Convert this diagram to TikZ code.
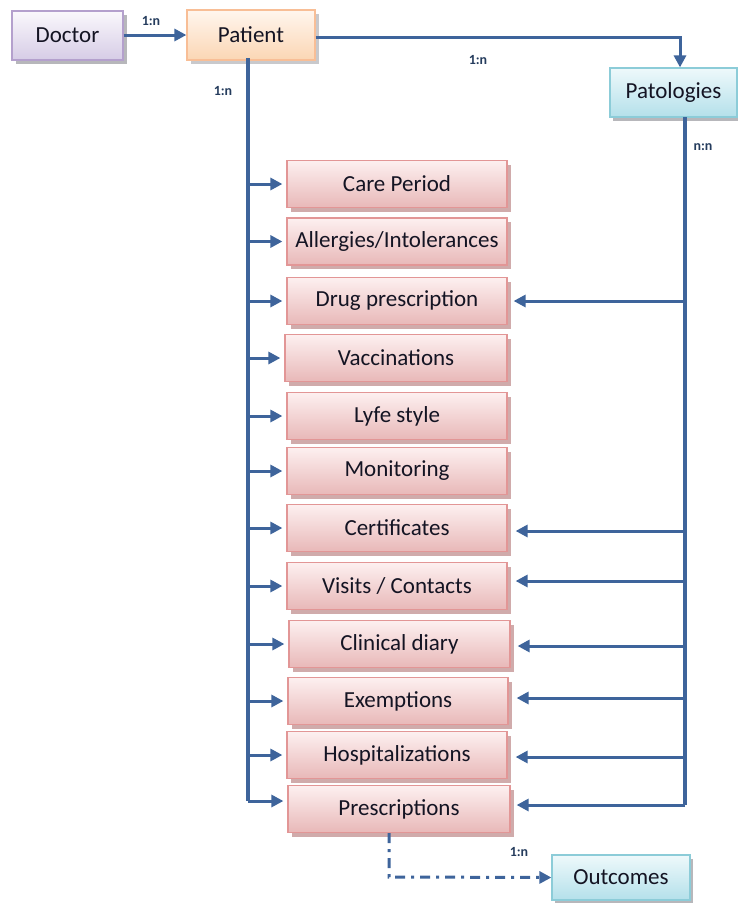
\documentclass[tikz,border=0pt]{standalone}
\usepackage{fontspec}
\setmainfont{Carlito}
\usetikzlibrary{shadows,arrows.meta}
\definecolor{lnk}{RGB}{62,100,155}
\definecolor{pinkline}{RGB}{226,150,150}
\definecolor{pinktop}{RGB}{253,240,240}
\definecolor{pinkbot}{RGB}{232,184,184}
\definecolor{pinkshadow}{RGB}{196,150,150}
\definecolor{lavline}{RGB}{180,160,205}
\definecolor{lavtop}{RGB}{250,248,252}
\definecolor{lavbot}{RGB}{214,204,230}
\definecolor{orline}{RGB}{248,190,150}
\definecolor{ortop}{RGB}{255,246,238}
\definecolor{orbot}{RGB}{251,214,180}
\definecolor{cyline}{RGB}{140,204,216}
\definecolor{cytop}{RGB}{238,249,251}
\definecolor{cybot}{RGB}{180,224,234}
\definecolor{greyshadow}{RGB}{165,165,170}
\definecolor{txt}{RGB}{20,20,35}
\tikzset{
  basebox/.style={draw, line width=1.2pt, inner sep=0pt, text=txt,
    font=\fontsize{23}{27}\selectfont},
  pinkbox/.style={basebox, minimum width=220pt, minimum height=47pt,
    draw=pinkline, top color=pinktop, bottom color=pinkbot,
    drop shadow={shadow xshift=4pt, shadow yshift=-4pt, fill=pinkshadow, opacity=0.8}},
  lavbox/.style={basebox, draw=lavline, top color=lavtop, bottom color=lavbot,
    drop shadow={shadow xshift=4pt, shadow yshift=-4pt, fill=greyshadow, opacity=0.8}},
  orbox/.style={basebox, draw=orline, top color=ortop, bottom color=orbot,
    drop shadow={shadow xshift=4pt, shadow yshift=-4pt, fill=greyshadow, opacity=0.6}},
  cybox/.style={basebox, draw=cyline, top color=cytop, bottom color=cybot,
    drop shadow={shadow xshift=3pt, shadow yshift=-4pt, fill=greyshadow, opacity=0.8}},
  tip/.style={-{Triangle[length=12pt,width=12pt]}},
  trunk/.style={draw=lnk, line width=4pt},
  link/.style={draw=lnk, line width=3pt, tip},
  card/.style={font=\fontsize{14}{15}\selectfont\bfseries, text=lnk!60!black, inner sep=0pt},
}
\begin{document}
\begin{tikzpicture}[x=1pt,y=-1pt]
\useasboundingbox (0,0) rectangle (738,903);

% entity boxes
\node[lavbox, minimum width=111pt, minimum height=49pt] (doctor) at (67.5,35.5) {Doctor};
\node[orbox, minimum width=128pt, minimum height=50pt] (patient) at (251,35) {Patient};
\node[cybox, minimum width=127pt, minimum height=49pt] (patol) at (673.5,92.5) {Patologies};
\node[cybox, minimum width=138pt, minimum height=45pt] (outc) at (621,877.5) {Outcomes};

\node[pinkbox] (care)  at (397,184)   {Care Period};
\node[pinkbox] (aller) at (397,241.5) {Allergies/Intolerances};
\node[pinkbox] (drug)  at (397,301)   {Drug prescription};
\node[pinkbox, minimum width=222pt] (vacc) at (396,358) {Vaccinations};
\node[pinkbox] (life)  at (397,416)   {Lyfe style};
\node[pinkbox] (monit) at (397,471)   {Monitoring};
\node[pinkbox] (cert)  at (397,528)   {Certificates};
\node[pinkbox] (visit) at (397,586)   {Visits / Contacts};
\node[pinkbox, minimum width=221pt] (diary) at (399.5,644) {Clinical diary};
\node[pinkbox] (exem)  at (398,701)   {Exemptions};
\node[pinkbox] (hosp)  at (397,755)   {Hospitalizations};
\node[pinkbox, minimum width=222pt] (presc) at (399,809) {Prescriptions};

% trunk corners
\coordinate (ltop) at (248,60);
\coordinate (lbot) at (248,801);
\coordinate (rtop) at (685,117);
\coordinate (rbot) at (685,805);
\coordinate (pbend) at (680,37);
\coordinate (obend) at (389,877);

% doctor -> patient
\draw[link] (doctor.east |- 0,35) -- (patient.west |- 0,35);
\node[card] (c1) at (151,21) {1:n};

% patient -> patologies
\draw[link] (patient.east |- pbend) -- (pbend) -- (pbend |- patol.north);
\node[card] (c2) at (478,60) {1:n};

% patient trunk to the detail boxes
\draw[trunk] (248,58) -- (lbot);
\node[card] (c3) at (223,91) {1:n};
\foreach \b in {care,aller,drug,vacc,life,monit,cert,visit,diary,exem,hosp}
  \draw[link, shorten >=4pt] (ltop |- \b.west) -- (\b.west);
\draw[link, shorten >=4pt] (lbot) -- (lbot -| presc.west);

% patologies trunk
\draw[trunk] (rtop) -- (rbot);
\node[card] (c4) at (703,147) {n:n};
\draw[link, shorten >=6pt] (rtop |- drug.east) -- (drug.east);
\draw[link, shorten >=8pt] (rtop |- 0,531) -- (cert.east |- 0,531);
\draw[link, shorten >=8pt] (rtop |- 0,581) -- (visit.east |- 0,581);
\draw[link, shorten >=7pt] (rtop |- 0,646) -- (diary.east |- 0,646);
\draw[link, shorten >=8pt] (rtop |- 0,698) -- (exem.east |- 0,698);
\draw[link, shorten >=8pt] (rtop |- 0,757) -- (hosp.east |- 0,757);
\draw[link, shorten >=6pt] (rbot) -- (rbot -| presc.east);

% prescriptions -> outcomes
\draw[draw=lnk, line width=3pt, tip, dash pattern=on 10pt off 6pt on 3pt off 6pt]
  (presc.south -| obend) -- (obend) -- (outc.west);
\node[card] (c5) at (519,852) {1:n};
\end{tikzpicture}
\end{document}
